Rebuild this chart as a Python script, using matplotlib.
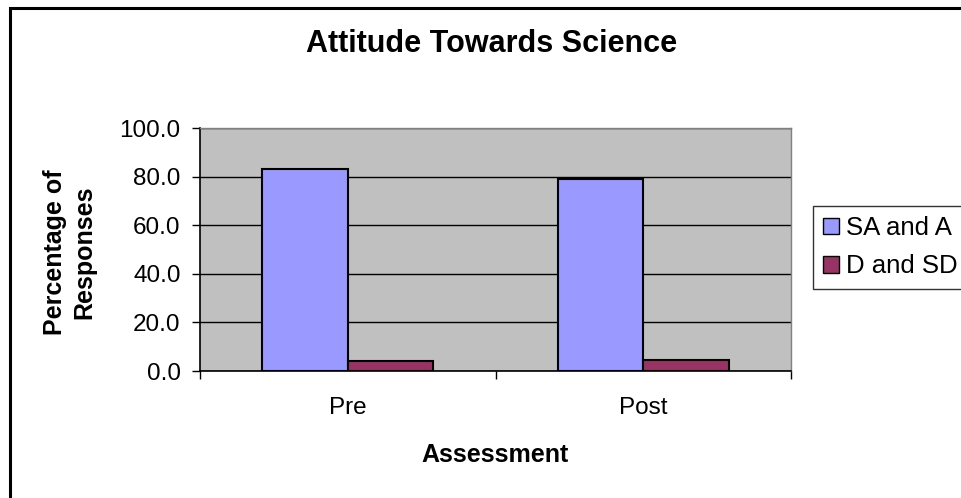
import matplotlib
matplotlib.use("Agg")
import matplotlib.pyplot as plt
from matplotlib.patches import Rectangle
import numpy as np

plt.rcParams['font.family'] = ['Liberation Sans', 'DejaVu Sans']

categories = ["Pre", "Post"]
series_names = ["SA and A", "D and SD"]
sa_and_a = [83.3, 79.2]
d_and_sd = [4.1, 4.7]
yticks = [0, 20, 40, 60, 80, 100]
colors = ["#9999FF", "#993366"]

W, H = 961, 498
fig = plt.figure(figsize=(W / 100, H / 100), dpi=100)
fig.patch.set_facecolor("white")

ax = fig.add_axes([200 / W, 1 - 371 / H, 591 / W, 243 / H])
ax.set_facecolor("#C0C0C0")

x = np.arange(len(categories))
bw = 0.29
ax.bar(x - bw / 2, sa_and_a, bw, color=colors[0], edgecolor="black", linewidth=1.5,
       label=series_names[0], zorder=3)
ax.bar(x + bw / 2, d_and_sd, bw, color=colors[1], edgecolor="black", linewidth=1.5,
       label=series_names[1], zorder=3)

ax.set_xlim(-0.5, len(categories) - 0.5)
ax.set_ylim(0, 100)
ax.set_yticks(yticks)
ax.set_yticklabels([f"{v:.1f}" for v in yticks], fontsize=17.5)
ax.yaxis.grid(True, color="black", linewidth=1, zorder=1)
ax.set_axisbelow(True)

ax.set_xticks(x)
ax.set_xticklabels(categories, fontsize=17.5)
ax.set_xticks(np.arange(-0.5, len(categories)), minor=True)
ax.tick_params(axis="x", which="major", length=0, pad=19)
ax.tick_params(axis="x", which="minor", length=6, width=1, direction="out", color="black")
ax.tick_params(axis="y", length=6, width=1, direction="out", pad=8, color="black")

for s in ["top", "right"]:
    ax.spines[s].set_color("#808080")
    ax.spines[s].set_linewidth(1)
for s in ["left", "bottom"]:
    ax.spines[s].set_color("black")
    ax.spines[s].set_linewidth(1.2)
ax.spines["bottom"].set_zorder(4)

ax.set_ylabel("Percentage of\nResponses", fontsize=18, fontweight="bold", linespacing=1.3)
ax.yaxis.set_label_coords((70 - 200) / 591, (371 - 252) / 243)
ax.yaxis.label.set_va("center")
ax.yaxis.label.set_ha("center")

ax.set_xlabel("Assessment", fontsize=18, fontweight="bold")
ax.xaxis.set_label_coords(0.5, (371 - 462) / 243)
ax.xaxis.label.set_va("baseline")

fig.text(491.5 / W, 1 - 52 / H, "Attitude Towards Science", fontsize=22,
         fontweight="bold", ha="center", va="baseline")

leg = ax.legend(loc="upper left", bbox_to_anchor=(813 / W, 1 - 206 / H),
                bbox_transform=fig.transFigure, fontsize=18.5, frameon=True,
                fancybox=False, handlelength=0.6, handleheight=0.6,
                handletextpad=0.3, borderpad=0.4, labelspacing=0.55,
                borderaxespad=0)
leg.get_frame().set_edgecolor("black")
leg.get_frame().set_linewidth(1)
for h in leg.legend_handles:
    h.set_linewidth(1)

fig.patches.append(Rectangle((9.5 / W, -0.1), 2, 1.1 - 8 / H, transform=fig.transFigure,
                             fill=False, edgecolor="black", linewidth=2.2))

fig.savefig("out.png", dpi=100)
